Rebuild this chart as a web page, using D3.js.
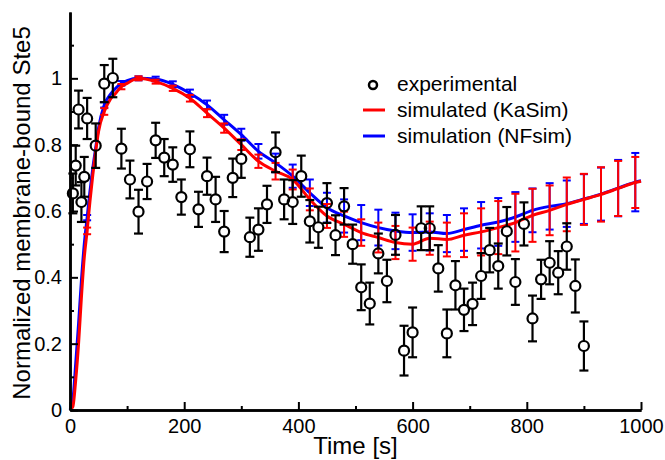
<!DOCTYPE html>
<html>
<head>
<meta charset="utf-8">
<script src="https://cdn.jsdelivr.net/npm/d3@7"></script>
<style>
    body { margin: 0; background: #fff; }
    svg text { font-family: "Liberation Sans", Arial, sans-serif; fill: #000; }
</style>
</head>
<body>
<div id="chart"></div>
<script>
// experimental points (time [s], normalized value, error)
const expTime = [5, 10, 15, 20, 25, 30, 45, 60, 75, 90, 105, 120, 135, 150, 165, 180, 195, 210, 225, 240,
    255, 270, 285, 300, 315, 330, 345, 360, 375, 390, 405, 420, 435, 450, 465, 480, 495, 510, 525, 540,
    555, 570, 585, 600, 615, 630, 645, 660, 675, 690, 705, 720, 735, 750, 765, 780, 795, 810, 825, 840,
    855, 870, 885, 900];
const expValue = [0.653, 0.737, 0.906, 0.627, 0.703, 0.879, 0.797, 0.984, 1.001, 0.788, 0.695, 0.598, 0.689, 0.813, 0.761, 0.740, 0.642, 0.786, 0.605, 0.705,
    0.635, 0.538, 0.700, 0.757, 0.521, 0.544, 0.620, 0.777, 0.635, 0.627, 0.705, 0.569, 0.551, 0.624, 0.527, 0.614, 0.500, 0.370, 0.321, 0.472,
    0.389, 0.528, 0.179, 0.234, 0.548, 0.548, 0.427, 0.231, 0.376, 0.302, 0.320, 0.404, 0.482, 0.434, 0.539, 0.386, 0.561, 0.276, 0.394, 0.444,
    0.414, 0.493, 0.374, 0.193];
const expErr = [0.06, 0.06, 0.057, 0.06, 0.06, 0.062, 0.067, 0.056, 0.058, 0.06, 0.057, 0.066, 0.053, 0.053, 0.056, 0.052, 0.053, 0.054, 0.053, 0.056,
    0.068, 0.062, 0.058, 0.057, 0.059, 0.064, 0.056, 0.06, 0.06, 0.066, 0.062, 0.064, 0.062, 0.06, 0.06, 0.055, 0.059, 0.069, 0.063, 0.06,
    0.064, 0.06, 0.075, 0.075, 0.066, 0.066, 0.07, 0.072, 0.073, 0.064, 0.064, 0.069, 0.067, 0.068, 0.073, 0.069, 0.065, 0.069, 0.059, 0.065,
    0.065, 0.07, 0.08, 0.074];

// simulation curves
const simTime = [0, 5, 10, 15, 20, 25, 30, 35, 40, 45, 50, 60, 70, 80, 90, 100, 120, 150, 180, 210, 240, 270, 300, 330, 360, 390,
    420, 450, 480, 510, 540, 570, 600, 630, 660, 690, 720, 750, 780, 810, 840, 870, 900, 930, 960, 990, 1000];
const kasim = [0, 0.01, 0.09, 0.2, 0.34, 0.46, 0.54, 0.63, 0.71, 0.78, 0.84, 0.90, 0.935, 0.955, 0.975, 0.985, 1.0, 0.99, 0.97, 0.94, 0.895, 0.85, 0.80, 0.75, 0.72, 0.695,
    0.635, 0.585, 0.56, 0.535, 0.52, 0.505, 0.50, 0.518, 0.514, 0.527, 0.537, 0.55, 0.565, 0.587, 0.602, 0.62, 0.635, 0.65, 0.668, 0.686, 0.69];
const nfsim = [0, 0.03, 0.14, 0.26, 0.39, 0.50, 0.58, 0.66, 0.73, 0.79, 0.85, 0.92, 0.95, 0.97, 0.985, 0.993, 1.0, 0.998, 0.982, 0.955, 0.92, 0.875, 0.83, 0.78, 0.745, 0.705,
    0.655, 0.61, 0.585, 0.565, 0.55, 0.54, 0.535, 0.537, 0.532, 0.544, 0.557, 0.567, 0.582, 0.602, 0.614, 0.622, 0.636, 0.651, 0.669, 0.687, 0.691];

// simulation error bars, every 30 s
const barTime = [30, 60, 90, 120, 150, 180, 210, 240, 270, 300, 330, 360, 390, 420, 450, 480, 510, 540, 570, 600,
    630, 660, 690, 720, 750, 780, 810, 840, 870, 900, 930, 960, 990];
const kasimErr = [0.01, 0.01, 0.008, 0.006, 0.006, 0.008, 0.01, 0.012, 0.014, 0.016, 0.02, 0.025, 0.03, 0.033, 0.036, 0.038, 0.04, 0.045, 0.05, 0.05,
    0.05, 0.051, 0.066, 0.071, 0.08, 0.087, 0.08, 0.075, 0.081, 0.077, 0.082, 0.083, 0.077];
const nfsimErr = [0.008, 0.008, 0.007, 0.006, 0.007, 0.009, 0.011, 0.013, 0.015, 0.018, 0.022, 0.028, 0.035, 0.04, 0.045, 0.05, 0.053, 0.054, 0.055, 0.055,
    0.056, 0.056, 0.064, 0.07, 0.072, 0.075, 0.066, 0.07, 0.07, 0.075, 0.08, 0.085, 0.088];

const xMajor = [0, 200, 400, 600, 800, 1000];
const xMinor = [100, 300, 500, 700, 900];
const yMajor = [0, 0.2, 0.4, 0.6, 0.8, 1];
const yMajorLabels = ["0", "0.2", "0.4", "0.6", "0.8", "1"];
const yMinor = [0.1, 0.3, 0.5, 0.7, 0.9, 1.1];

const width = 665, height = 460;

const svg = d3.select("#chart").append("svg")
    .attr("width", width)
    .attr("height", height);

const x = d3.scaleLinear().domain([0, 1000]).range([70, 641]);
const y = d3.scaleLinear().domain([0, 1.2]).range([410, 12]);

// simulation series, blue under red
function drawSim(values, errs, color) {
    const pts = simTime.map((t, i) => [t, values[i]]);
    svg.append("path")
        .datum(pts)
        .attr("fill", "none")
        .attr("stroke", color)
        .attr("stroke-width", 3)
        .attr("stroke-linejoin", "round")
        .attr("d", d3.line().x(d => x(d[0])).y(d => y(d[1])).curve(d3.curveMonotoneX));

    const bars = barTime.map((t, i) => ({ t, v: values[simTime.indexOf(t)], e: errs[i] }));
    const g = svg.append("g").attr("stroke", color).attr("stroke-width", 2);
    bars.forEach(b => {
        const cx = x(b.t), y0 = y(b.v - b.e), y1 = y(b.v + b.e);
        g.append("line").attr("x1", cx).attr("x2", cx).attr("y1", y0).attr("y2", y1);
        g.append("line").attr("x1", cx - 4).attr("x2", cx + 4).attr("y1", y0).attr("y2", y0);
        g.append("line").attr("x1", cx - 4).attr("x2", cx + 4).attr("y1", y1).attr("y2", y1);
    });
}

drawSim(nfsim, nfsimErr, "#0000ff");
drawSim(kasim, kasimErr, "#ff0000");

// experimental points
const r = 5;
const expG = svg.append("g").attr("stroke", "#000").attr("stroke-width", 2.2).attr("fill", "none");
expTime.forEach((t, i) => {
    const cx = x(t), cy = y(expValue[i]);
    const y0 = y(expValue[i] - expErr[i]), y1 = y(expValue[i] + expErr[i]);
    expG.append("line").attr("x1", cx).attr("x2", cx).attr("y1", y1).attr("y2", cy - r);
    expG.append("line").attr("x1", cx).attr("x2", cx).attr("y1", cy + r).attr("y2", y0);
    expG.append("line").attr("x1", cx - 4.5).attr("x2", cx + 4.5).attr("y1", y0).attr("y2", y0);
    expG.append("line").attr("x1", cx - 4.5).attr("x2", cx + 4.5).attr("y1", y1).attr("y2", y1);
    expG.append("circle").attr("cx", cx).attr("cy", cy).attr("r", r);
});

// axes (ticks pointing inward)
svg.append("g")
    .attr("transform", `translate(0,${y(0)})`)
    .call(d3.axisBottom(x).tickValues(xMajor).tickSize(-8).tickSizeOuter(0).tickPadding(9).tickFormat(d3.format("d")));
svg.append("g")
    .attr("transform", `translate(0,${y(0)})`)
    .call(d3.axisBottom(x).tickValues(xMinor).tickSize(-4).tickSizeOuter(0).tickFormat(""));

svg.append("g")
    .attr("transform", `translate(${x(0)},0)`)
    .call(d3.axisLeft(y).tickValues(yMajor).tickSize(-8).tickSizeOuter(0).tickPadding(8)
        .tickFormat((d, i) => yMajorLabels[i]));
svg.append("g")
    .attr("transform", `translate(${x(0)},0)`)
    .call(d3.axisLeft(y).tickValues(yMinor).tickSize(-4).tickSizeOuter(0).tickFormat(""));

svg.selectAll(".domain").attr("stroke", "#000").attr("stroke-width", 2.5);
svg.selectAll(".tick line").attr("stroke", "#000").attr("stroke-width", 2);
svg.selectAll(".tick text").style("font-size", "20px").attr("font-family", null);

svg.append("text")
    .attr("x", x(500))
    .attr("y", 454)
    .attr("text-anchor", "middle")
    .style("font-size", "24px")
    .text("Time [s]");

svg.append("text")
    .attr("transform", `translate(30,${(y(0) + y(1.2)) / 2 + 2}) rotate(-90)`)
    .attr("text-anchor", "middle")
    .style("font-size", "24px")
    .text("Normalized membrane-bound Ste5");

// legend
const legend = svg.append("g");
legend.append("circle").attr("cx", 373).attr("cy", 85).attr("r", 4)
    .attr("fill", "none").attr("stroke", "#000").attr("stroke-width", 2.5);
legend.append("line").attr("x1", 363).attr("x2", 385).attr("y1", 110).attr("y2", 110)
    .attr("stroke", "#ff0000").attr("stroke-width", 3);
legend.append("line").attr("x1", 363).attr("x2", 385).attr("y1", 136).attr("y2", 136)
    .attr("stroke", "#0000ff").attr("stroke-width", 3);
const legendText = ["experimental", "simulated (KaSim)", "simulation (NFsim)"];
legendText.forEach((s, i) => {
    legend.append("text")
        .attr("x", 397)
        .attr("y", 84 + i * 26)
        .attr("dy", "0.35em")
        .style("font-size", "21px")
        .text(s);
});
</script>
</body>
</html>
